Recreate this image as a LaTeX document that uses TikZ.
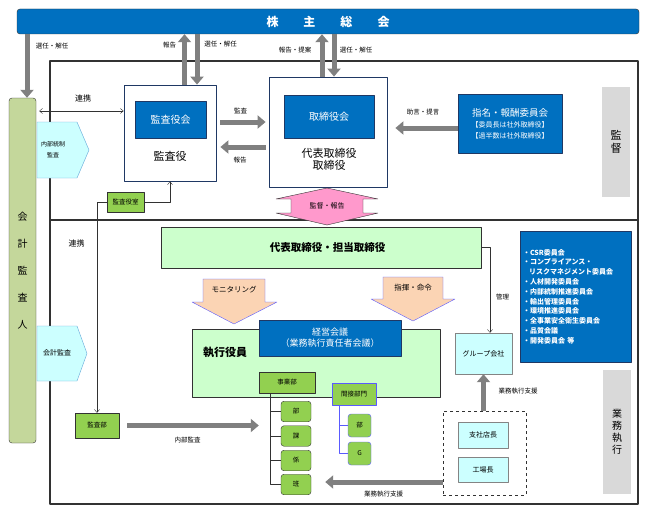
\documentclass[tikz,border=0pt]{standalone}
\usepackage{fontspec}
\setmainfont{Noto Sans CJK JP}
\usetikzlibrary{positioning,arrows.meta,calc}
\definecolor{cgBlue}{RGB}{0,112,192}
\definecolor{cgNavy}{RGB}{31,56,100}
\definecolor{cgMint}{RGB}{204,255,204}
\definecolor{cgLeaf}{RGB}{146,208,80}
\definecolor{cgCyan}{RGB}{204,255,255}
\definecolor{cgOlive}{RGB}{196,215,155}
\definecolor{cgPink}{RGB}{255,153,204}
\definecolor{cgPeach}{RGB}{251,212,180}
\definecolor{cgArrow}{RGB}{128,128,128}
\definecolor{cgBar}{RGB}{217,217,217}
\definecolor{cgLine}{RGB}{50,50,50}
\definecolor{cgViolet}{RGB}{90,90,255}
\tikzset{
    base/.style={align=center, inner sep=0pt, font=\fontsize{6.5}{8}\selectfont},
    bluebox/.style={base, rectangle, draw=cgNavy, fill=cgBlue, text=white,
                    font=\fontsize{10}{12}\selectfont},
    whitebox/.style={base, rectangle, draw=cgNavy, thick, fill=white},
    mintbox/.style={base, rectangle, draw=cgLine, fill=cgMint},
    leafbox/.style={base, rectangle, draw=cgLine, fill=cgLeaf},
    cyanbox/.style={base, rectangle, draw=cgLine!60, fill=cgCyan, font=\fontsize{7}{8}\selectfont},
    sidebar/.style={base, rectangle, fill=cgBar, minimum width=28pt},
    tabline/.style={draw=cgBlue!60, fill=cgCyan},
    garrow/.style={-{Triangle[length=8pt,width=13pt]}, line width=5pt, color=cgArrow},
    fine/.style={-{Straight Barb[length=3pt,width=5pt]}, color=cgLine},
    treeline/.style={color=cgLine},
    note/.style={base, font=\fontsize{6.5}{8}\selectfont}
}
\begin{document}
\begin{tikzpicture}[x=1pt, y=-1pt, line join=round]
    \useasboundingbox (0,0) rectangle (645,511);

    % Shareholders meeting and auditor bar
    \node[bluebox, draw=cgLine, rounded corners=3pt, minimum width=622pt, minimum height=25pt,
          font=\fontsize{12}{14}\selectfont\bfseries] (soukai) at (328,21.5)
          {株\hspace{25pt}主\hspace{25pt}総\hspace{25pt}会};
    \node[base, rectangle, rounded corners=3pt, draw=cgLine, fill=cgOlive,
          minimum width=27pt, minimum height=345pt, font=\fontsize{10}{27}\selectfont]
          (kaikei) at (22.5,270.5) {会\\計\\監\\査\\人};

    % Frame
    \draw[line width=1.3pt, cgLine] (50,61) rectangle (638,504);
    \draw[line width=1.3pt, cgLine] (50,220) -- (638,220);
    \node[sidebar, minimum height=110pt, font=\fontsize{11}{13}\selectfont] (kantokubar) at (616,142) {監\\督};
    \node[sidebar, minimum height=124pt, font=\fontsize{10}{12}\selectfont] (gyomubar) at (617,432) {業\\務\\執\\行};

    % Supervision
    \node[whitebox, minimum width=92pt, minimum height=96pt] (kansa) at (170,133) {};
    \node[bluebox, minimum width=71pt, minimum height=37pt] (kansakai) at (170.5,119.5) {監査役会};
    \node[base, font=\fontsize{11}{13}\selectfont] (kansayaku) at (170,156) {監査役};
    \node[whitebox, minimum width=118pt, minimum height=110pt] (torishimari) at (328,132) {};
    \node[bluebox, minimum width=90pt, minimum height=43pt] (torikai) at (329,116.5) {取締役会};
    \node[base, font=\fontsize{11}{12}\selectfont] (daitori) at (329,159) {代表取締役\\取締役};
    \node[bluebox, minimum width=104pt, minimum height=59pt, font=\fontsize{7}{11}\selectfont]
          (shimei) at (510,123.5)
          {{\fontsize{9.5}{11}\selectfont 指名・報酬委員会}\\【委員長は社外取締役】\\【過半数は社外取締役】};
    \node[leafbox, minimum width=37pt, minimum height=20pt] (kansashitsu) at (125.5,202) {監査役室};

    \draw[tabline] (37,122) -- (77,122) -- (89,150) -- (77,178) -- (37,178) -- cycle;
    \node[note, font=\fontsize{6}{11}\selectfont] (naibutousei) at (53,150) {内部統制\\監査};
    \draw[tabline] (37,326) -- (77,326) -- (87,353.5) -- (77,381) -- (37,381) -- cycle;
    \node[note, font=\fontsize{7}{8}\selectfont] (kaikeikansa) at (57,353) {会計監査};

    \draw[fill=cgPink, draw=cgLine] (327,188) -- (378,199) -- (363,199) -- (363,213) -- (378,213)
        -- (327,225) -- (276,213) -- (291,213) -- (291,199) -- (276,199) -- cycle;
    \node[note, font=\fontsize{7}{8}\selectfont] (kantoku) at (327,206) {監督・報告};

    % Execution
    \node[mintbox, minimum width=320pt, minimum height=41pt, font=\fontsize{10.5}{12}\selectfont\bfseries]
          (daihyo) at (321,247.5) {\hspace*{13pt}代表取締役・担当取締役};
    \draw[fill=cgPeach, draw=cgViolet] (203,279) -- (265,279) -- (265,302) -- (277,302)
        -- (234,324) -- (192,302) -- (203,302) -- cycle;
    \node[note, font=\fontsize{7.5}{9}\selectfont] (monitor) at (234,290) {モニタリング};
    \draw[fill=cgPeach, draw=cgViolet] (383,277) -- (443,277) -- (443,299) -- (455,299)
        -- (413,321) -- (371,299) -- (383,299) -- cycle;
    \node[note, font=\fontsize{7.5}{9}\selectfont] (shiki) at (413,288) {指揮・命令};

    \node[mintbox, minimum width=248pt, minimum height=68pt] (shikko) at (316,363) {};
    \node[base, font=\fontsize{11}{13}\selectfont\bfseries] (shikkoyakuin) at (225,352) {執行役員};
    \node[bluebox, minimum width=142pt, minimum height=36pt, font=\fontsize{9}{11}\selectfont]
          (keiei) at (330,338) {経営会議\\（業務執行責任者会議）};
    \node[cyanbox, minimum width=57pt, minimum height=41pt] (group) at (483.5,353.5) {グループ会社};
    \node[bluebox, minimum width=111pt, minimum height=131pt, text width=105pt, align=left,
          font=\fontsize{7}{9.8}\selectfont\bfseries] (iinkai) at (575.5,296.5)
          {・CSR委員会\\・コンプライアンス・\\\hspace*{6pt}リスクマネジメント委員会\\・人材開発委員会\\・内部統制推進委員会\\・輸出管理委員会\\・環境推進委員会\\・全事業安全衛生委員会\\・品質会議\\・開発委員会 等};

    \node[base, rectangle, draw=cgLine, dashed, minimum width=83pt, minimum height=84pt] (shiten) at (484.5,453) {};
    \node[cyanbox, minimum width=50pt, minimum height=26pt] (shitencho) at (483,435) {支社店長};
    \node[cyanbox, minimum width=50pt, minimum height=25pt] (kojo) at (483,469.5) {工場長};

    \node[leafbox, minimum width=56pt, minimum height=21pt] (jigyobu) at (287,382.5) {事業部};
    \node[leafbox, rounded corners=3pt, minimum width=30pt, minimum height=20.5pt] (bu) at (296,411.5) {部};
    \node[leafbox, rounded corners=3pt, minimum width=30pt, minimum height=20.5pt] (ka) at (296,436) {課};
    \node[leafbox, rounded corners=3pt, minimum width=30pt, minimum height=20.5pt] (kakari) at (296,460.5) {係};
    \node[leafbox, rounded corners=3pt, minimum width=30pt, minimum height=20.5pt] (han) at (296,484.5) {班};
    \node[leafbox, draw=cgViolet, minimum width=44pt, minimum height=22pt] (kansetsu) at (354,394) {間接部門};
    \node[leafbox, draw=cgViolet, rounded corners=3pt, minimum width=23pt, minimum height=23pt] (kbu) at (359.5,425.5) {部};
    \node[leafbox, draw=cgViolet, rounded corners=3pt, minimum width=23pt, minimum height=23pt] (kg) at (359.5,453.5) {G};
    \node[leafbox, minimum width=44pt, minimum height=25pt] (kansabu) at (97,425.5) {監査部};

    % Trees
    \coordinate (jtrunk) at ([xshift=11pt]jigyobu.south west);
    \foreach \n in {bu,ka,kakari,han}
        \draw[treeline] (jtrunk) |- (\n.west);
    \coordinate (ktrunk) at ([xshift=7pt]kansetsu.south west);
    \foreach \n in {kbu,kg}
        \draw[treeline, cgViolet] (ktrunk) |- (\n.west);

    % Arrows
    \draw[garrow] ([xshift=4.5pt]kaikei.north |- soukai.south) -- ([xshift=4.5pt]kaikei.north);
    \draw[garrow] ([xshift=14.5pt]kansa.north) -- ([xshift=14.5pt]kansa.north |- soukai.south);
    \draw[garrow] ([xshift=27pt]kansa.north |- soukai.south) -- ([xshift=27pt]kansa.north);
    \draw[garrow] ([xshift=-6pt]torishimari.north) -- ([xshift=-6pt]torishimari.north |- soukai.south);
    \draw[garrow] ([xshift=6pt]torishimari.north |- soukai.south) -- ([xshift=6pt]torishimari.north);
    \draw[garrow, shorten <=4pt, shorten >=3pt] ([yshift=11pt]kansa.east) -- ([yshift=11pt]kansa.east -| torishimari.west);
    \draw[garrow, shorten <=3pt, shorten >=4pt] ([yshift=-14pt]kansa.east -| torishimari.west) -- ([yshift=-14pt]kansa.east);
    \draw[garrow, shorten >=8pt] ([yshift=-4.5pt]shimei.west) -- ([yshift=-4.5pt]shimei.west -| torishimari.east);
    \draw[{Straight Barb[length=3pt,width=5pt]}-{Straight Barb[length=3pt,width=5pt]}, cgLine, shorten <=3pt]
        ([yshift=22pt]kaikei.east |- kansa.west) -- ([yshift=22pt]kansa.west);
    \draw[fine] (kansashitsu.east) -| (kansa.south);
    \draw[fine] (kansashitsu.west) -| (kansabu.north);
    \draw[fine] (daihyo.east) -| ([xshift=6.5pt]group.north);
    \draw[garrow] (shiten.north -| group.south) -- (group.south);
    \draw[garrow, shorten >=14pt] ([yshift=-29pt]shiten.west) -- ([yshift=-29pt]shiten.west -| han.east);
    \draw[garrow, shorten <=8pt] (kansabu.east) -- (kansabu.east -| jigyobu.west);

    % Labels
    \node[note] at (52,46) {選任・解任};
    \node[note] at (169.5,45) {報告};
    \node[note] at (220.5,44) {選任・解任};
    \node[note] at (295,50) {報告・提案};
    \node[note] at (356,50) {選任・解任};
    \node[note] at (240.5,111) {監査};
    \node[note] at (240,160) {報告};
    \node[note] at (423,112) {助言・提言};
    \node[note, font=\fontsize{8}{9}\selectfont] at (83,98) {連携};
    \node[note, font=\fontsize{8}{9}\selectfont] at (76.5,243) {連携};
    \node[note] at (502.5,297) {管理};
    \node[note] at (518,391) {業務執行支援};
    \node[note] at (383.5,494) {業務執行支援};
    \node[note] at (187.5,440) {内部監査};
\end{tikzpicture}
\end{document}
